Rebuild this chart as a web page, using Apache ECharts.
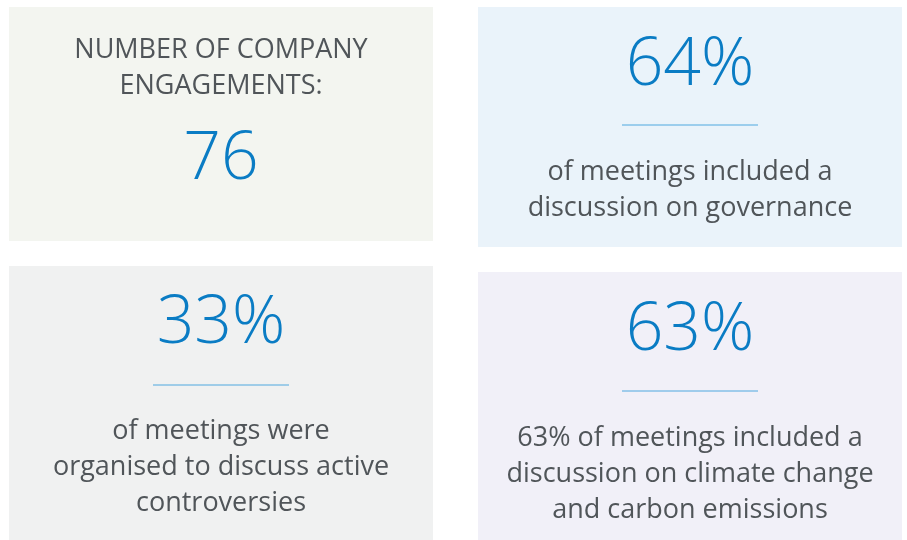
<!DOCTYPE html>
<html>
<head>
<meta charset="utf-8">
<script src="https://cdn.jsdelivr.net/npm/echarts@6/dist/echarts.min.js"></script>
<style>
  html, body { margin: 0; padding: 0; background: #fff; }
  #chart { width: 907px; height: 540px; }
</style>
</head>
<body>
<div id="chart"></div>
<script>
// headline figures, one per panel
const bigValues = ['76', '64%', '33%', '63%'];
// caption lines per panel
const headings = [['NUMBER OF COMPANY', 'ENGAGEMENTS:'], [], [], []];
const captions = [
  [],
  ['of meetings included a', 'discussion on governance'],
  ['of meetings were', 'organised to discuss active', 'controversies'],
  ['63% of meetings included a', 'discussion on climate change', 'and carbon emissions'],
];
const panelColors = ['#f3f5f0', '#eaf3fa', '#f0f1f1', '#f1f0f8'];

// panel boxes [x, y, w, h] and vertical anchors
const boxes = [
  [9, 7, 424, 234],
  [478, 7, 424, 240],
  [9, 266, 424, 274],
  [478, 272, 424, 268],
];
const bigY = [160, 66, 324, 331];
const ruleY = [null, 125, 385, 391];
const captionY = [null, 172, 431, 438];

const FONT = '"Open Sans", "Noto Sans", sans-serif';
const BLUE = '#0a7cc4';
const GREY = '#505559';

const chart = echarts.init(document.getElementById('chart'), null, { renderer: 'canvas' });
const elements = [];

boxes.forEach((b, i) => {
  const cx = b[0] + b[2] / 2;
  elements.push({
    type: 'rect', shape: { x: b[0], y: b[1], width: b[2], height: b[3] },
    style: { fill: panelColors[i] }, silent: true,
  });
  headings[i].forEach((t, k) => {
    elements.push({
      type: 'text', x: cx, y: 50 + k * 36,
      style: { text: t, fill: GREY, font: '27px ' + FONT, align: 'center', verticalAlign: 'middle' },
    });
  });
  elements.push({
    type: 'text', x: cx, y: bigY[i],
    style: { text: bigValues[i], fill: BLUE, font: '300 66px ' + FONT, align: 'center', verticalAlign: 'middle' },
  });
  if (ruleY[i] != null) {
    elements.push({
      type: 'line', shape: { x1: cx - 68, y1: ruleY[i], x2: cx + 68, y2: ruleY[i] },
      style: { stroke: '#4ea8df', lineWidth: 1 },
    });
  }
  captions[i].forEach((t, k) => {
    elements.push({
      type: 'text', x: cx, y: captionY[i] + k * 36,
      style: { text: t, fill: GREY, font: '27px ' + FONT, align: 'center', verticalAlign: 'middle' },
    });
  });
});

chart.setOption({
  backgroundColor: '#ffffff',
  animation: false,
  graphic: { elements },
});
window.addEventListener('resize', () => chart.resize());
</script>
</body>
</html>
